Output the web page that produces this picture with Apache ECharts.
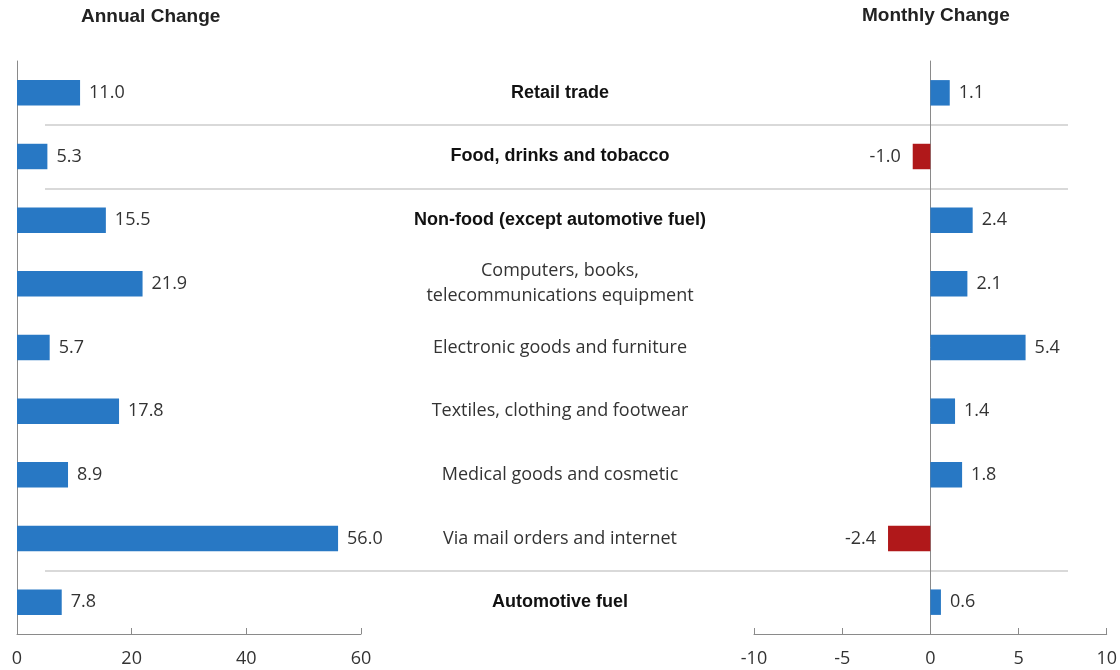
<!DOCTYPE html>
<html>
<head>
<meta charset="utf-8">
<script src="https://cdn.jsdelivr.net/npm/echarts@6/dist/echarts.min.js"></script>
<style>
  html, body { margin: 0; padding: 0; background: #fff; }
  #container { width: 1120px; height: 670px; }
</style>
</head>
<body>
<div id="container"></div>
<script>
let categories = [
    'Retail trade',
    'Food, drinks and tobacco',
    'Non-food (except automotive fuel)',
    'Computers, books,\ntelecommunications equipment',
    'Electronic goods and furniture',
    'Textiles, clothing and footwear',
    'Medical goods and cosmetic',
    'Via mail orders and internet',
    'Automotive fuel'
];
let boldRows = [true, true, true, false, false, false, false, false, true];
let annualChange = [11.0, 5.3, 15.5, 21.9, 5.7, 17.8, 8.9, 56.0, 7.8];
let monthlyChange = [1.1, -1.0, 2.4, 2.1, 5.4, 1.4, 1.8, -2.4, 0.6];
let separatorAfter = [1, 2, 8];  // split line before these category indexes

let blue = '#2878c4';
let red = '#b0181a';
let axisGrey = '#8a8a8a';
let bodyFont = '"Open Sans", "Noto Sans", sans-serif';
let headFont = '"Liberation Sans", sans-serif';

let valueLabel = {
    show: true,
    position: 'right',
    distance: 9,
    fontFamily: bodyFont,
    fontSize: 18,
    color: '#333',
    formatter: (p) => p.value.toFixed(1)
};

let monthlyData = monthlyChange.map((v) => ({
    value: v,
    itemStyle: {color: v < 0 ? red : blue},
    label: {position: v < 0 ? 'left' : 'right', distance: v < 0 ? 12 : 9}
}));

let chart = echarts.init(document.getElementById('container'));
chart.setOption({
    animation: false,
    graphic: [
        {type: 'text', left: 81, top: 7,
         style: {text: 'Annual Change', font: 'bold 19px ' + headFont, fill: '#222'}},
        {type: 'text', left: 862, top: 6,
         style: {text: 'Monthly Change', font: 'bold 19px ' + headFont, fill: '#222'}}
    ],
    grid: [
        {left: 17, right: 759, top: 61, bottom: 36},
        {left: 754, right: 9, top: 61, bottom: 36},
        {left: 45, right: 52, top: 61, bottom: 36}
    ],
    xAxis: [
        {gridIndex: 0, type: 'value', min: 0, max: 60, interval: 20,
         axisLine: {show: true, lineStyle: {color: axisGrey}},
         axisTick: {show: true, inside: true, length: 6, lineStyle: {color: axisGrey}},
         splitLine: {show: false},
         axisLabel: {fontFamily: bodyFont, fontSize: 18, color: '#333', margin: 16}},
        {gridIndex: 1, type: 'value', min: -10, max: 10, interval: 5,
         axisLine: {show: true, onZero: false, lineStyle: {color: axisGrey}},
         axisTick: {show: true, inside: true, length: 6, lineStyle: {color: axisGrey}},
         splitLine: {show: false},
         axisLabel: {fontFamily: bodyFont, fontSize: 18, color: '#333', margin: 16}},
        {gridIndex: 2, type: 'value', min: 0, max: 1, show: false}
    ],
    yAxis: [
        {gridIndex: 0, type: 'category', data: categories, inverse: true,
         axisLine: {show: true, lineStyle: {color: axisGrey}},
         axisTick: {show: false}, axisLabel: {show: false}},
        {gridIndex: 1, type: 'category', data: categories, inverse: true,
         axisLine: {show: true, onZero: true, lineStyle: {color: axisGrey}},
         axisTick: {show: false}, axisLabel: {show: false}},
        {gridIndex: 2, type: 'category', data: categories, inverse: true,
         axisLine: {show: false}, axisTick: {show: false},
         splitLine: {
             show: true,
             showMaxLine: false,
             interval: (index) => separatorAfter.indexOf(index) >= 0,
             lineStyle: {color: '#cccccc', width: 1.5}
         },
         axisLabel: {
             align: 'center',
             margin: -515,
             formatter: (v, i) => boldRows[i] ? '{b|' + v + '}' : '{n|' + v + '}',
             rich: {
                 b: {fontFamily: headFont, fontWeight: 'bold', fontSize: 18, color: '#111'},
                 n: {fontFamily: bodyFont, fontSize: 18, color: '#333', lineHeight: 25}
             }
         }}
    ],
    series: [
        {name: 'Annual Change', type: 'bar', xAxisIndex: 0, yAxisIndex: 0,
         data: annualChange, barWidth: '40%',
         itemStyle: {color: blue}, label: valueLabel},
        {name: 'Monthly Change', type: 'bar', xAxisIndex: 1, yAxisIndex: 1,
         data: monthlyData, barWidth: '40%',
         label: valueLabel}
    ]
});
</script>
</body>
</html>
